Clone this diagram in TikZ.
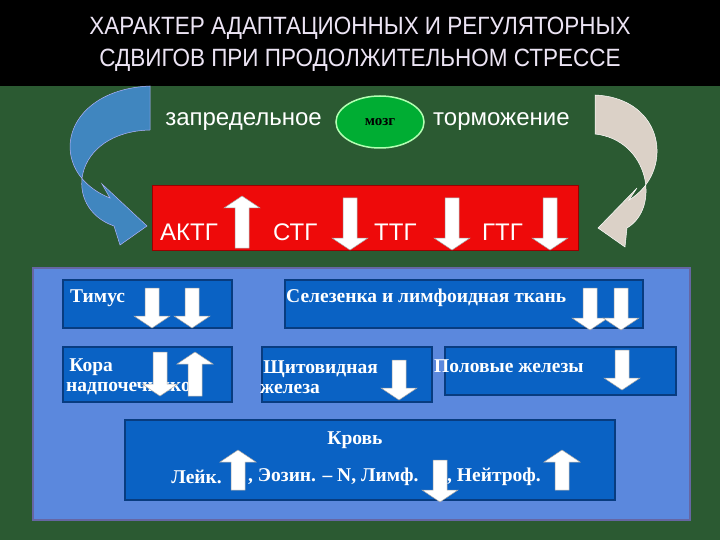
\documentclass[tikz,border=0pt]{standalone}
\usepackage{fontspec}
\setmainfont{Liberation Serif}
\newfontfamily\ars{Liberation Sans}
\usetikzlibrary{shapes.geometric}
\definecolor{bg}{HTML}{2B5A32}
\definecolor{panel}{HTML}{5B88DD}
\definecolor{boxb}{HTML}{0A62C4}
\definecolor{boxd}{HTML}{083C80}
\definecolor{redb}{HTML}{EE0A0A}
\definecolor{titlec}{HTML}{ECE4F4}
\newcommand\uarr[3]{\fill[white,draw=gray!70,line width=.5pt] (#1-7,#3)--(#1+7,#3)--(#1+7,#2+12)--(#1+18,#2+12)--(#1,#2)--(#1-18,#2+12)--(#1-7,#2+12)--cycle;}
\newcommand\darr[3]{\fill[white,draw=gray!70,line width=.5pt] (#1-7,#2)--(#1+7,#2)--(#1+7,#3-12)--(#1+18,#3-12)--(#1,#3)--(#1-18,#3-12)--(#1-7,#3-12)--cycle;}
\begin{document}
\begin{tikzpicture}[x=1pt,y=-1pt,
  hbox/.style={fill=boxb,draw=boxd,line width=2pt},
  lab/.style={font=\bfseries\fontsize{19.5}{20}\selectfont,text=white,anchor=west,align=left,inner sep=0pt},
  sans/.style={font=\ars\fontsize{24}{26}\selectfont,text=white,inner sep=0pt}]
\fill[bg] (0,0) rectangle (720,540);
\useasboundingbox (0,0) rectangle (720,540);
\fill[black] (0,0) rectangle (720,86);
\node[text=titlec,font=\ars\fontsize{25}{32}\selectfont,align=center,xscale=0.9] (title) at (360,44) {ХАРАКТЕР АДАПТАЦИОННЫХ И РЕГУЛЯТОРНЫХ\\СДВИГОВ ПРИ ПРОДОЛЖИТЕЛЬНОМ СТРЕССЕ};
% curved arrows
\fill[blue!45!cyan!50!gray,draw=white!70!blue,line width=.5pt] (150,86) .. controls (60,90) and (45,172) .. (110,198) -- (102,184) -- (147,226) -- (120,245) -- (114,226) .. controls (62,208) and (72,132) .. (150,130) -- cycle;
\begin{scope}[xshift=745,xscale=-1]
\fill[brown!20!white!80!gray,draw=white,line width=.5pt] (150,95) .. controls (80,98) and (70,172) .. (116,200) -- (108,188) -- (147,228) -- (120,247) -- (118,228) .. controls (84,208) and (96,140) .. (150,134) -- cycle;
\end{scope}
\node[ellipse,fill=green!60!black!80!cyan,draw=green!30,line width=1.5pt,minimum width=88,minimum height=52,font=\bfseries\fontsize{15}{16}\selectfont] (brain) at (380,122) {мозг};
\node[sans,anchor=east] (t1) at (322,122) {запредельное};
\node[sans,anchor=west] (t2) at (433,122) {торможение};
% red box
\fill[redb,draw=red!60!black,line width=1pt] (152,186) rectangle (578,250);
\node[sans,anchor=west] (a1) at (160,232) {АКТГ};
\node[sans,anchor=west] (a2) at (273,232) {СТГ};
\node[sans,anchor=west] (a3) at (374,232) {ТТГ};
\node[sans,anchor=west] (a4) at (482,232) {ГТГ};
\uarr{242}{196}{248}
\darr{350}{198}{250}
\darr{452}{198}{250}
\darr{550}{198}{250}
% panel
\fill[panel,draw=blue!40!black!60,line width=1.5pt] (33,268) rectangle (690,520);
\draw[hbox] (63,280) rectangle (232,328);
\draw[hbox] (285,280) rectangle (643,328);
\draw[hbox] (63,347) rectangle (232,402);
\draw[hbox] (262,347) rectangle (432,402);
\draw[hbox] (445,347) rectangle (676,395);
\draw[hbox] (125,420) rectangle (615,500);
\node[lab] (b1) at (70,298) {Тимус};
\node[lab] (b2) at (286,298) {Селезенка и лимфоидная ткань};
\node[lab] (b3) at (66,377) {\,Кора\\надпочечников};
\node[lab] (b4) at (260,377) {\,Щитовидная\\железа};
\node[lab] (b5) at (434,366) {Половые железы};
\node[lab,anchor=center] (b6) at (355,440) {Кровь};
\node[lab,anchor=east] (b7) at (222,477) {Лейк.};
\node[lab] (b8) at (248,477) {, Эозин. – N, Лимф.};
\node[lab] (b9) at (447,477) {, Нейтроф.};
\darr{152}{288}{328}\darr{192}{288}{328}
\darr{590}{288}{330}\darr{621}{288}{330}
\darr{160}{352}{396}\uarr{195}{352}{396}
\darr{399}{360}{400}
\darr{622}{350}{390}
\uarr{238}{450}{490}\darr{440}{460}{502}\uarr{562}{450}{490}
\end{tikzpicture}
\end{document}
